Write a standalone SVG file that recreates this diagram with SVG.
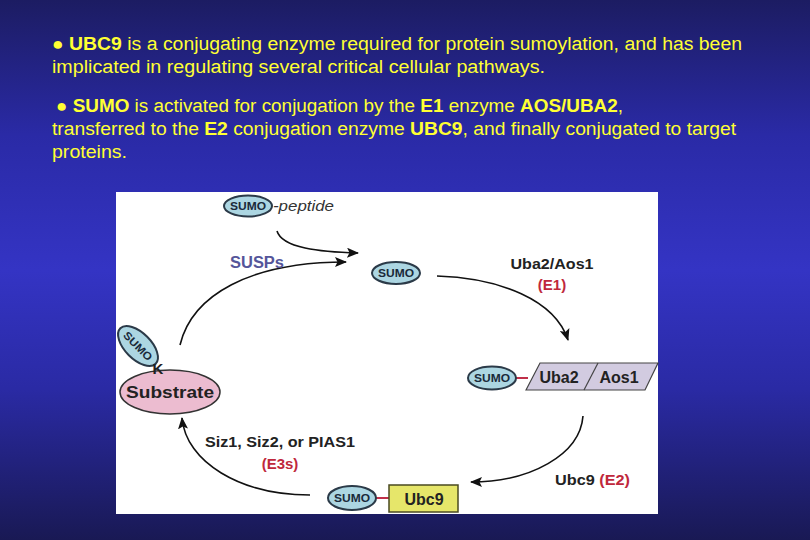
<svg xmlns="http://www.w3.org/2000/svg" width="810" height="540" viewBox="0 0 810 540">
<defs>
<linearGradient id="bg" x1="0" y1="0" x2="0" y2="1">
<stop offset="0" stop-color="#1c1c62"/>
<stop offset="0.25" stop-color="#2a2aa6"/>
<stop offset="0.5" stop-color="#3434c4"/>
<stop offset="0.72" stop-color="#2a2aa4"/>
<stop offset="1" stop-color="#191954"/>
</linearGradient>
<marker id="ah" viewBox="0 0 12 10" refX="11" refY="5" markerWidth="12" markerHeight="10" markerUnits="userSpaceOnUse" orient="auto">
<path d="M0,0 L12,5 L0,10 L2.5,5 Z" fill="#111"/>
</marker>
<style>
.hd{font-family:"Liberation Sans",Arial,sans-serif;font-size:18px;fill:#ffff33}
.b{font-weight:bold}
.sumo{fill:#acd6e2;stroke:#2b3a48;stroke-width:2}
.st{font-family:"Liberation Sans",Arial,sans-serif;font-weight:bold;font-size:11px;fill:#1a2a3a;text-anchor:middle}
.lb{font-family:"Liberation Sans",Arial,sans-serif;font-weight:bold;font-size:15px;fill:#222;text-anchor:middle}
.red{fill:#c0283c}
.arc{fill:none;stroke:#111;stroke-width:1.6;marker-end:url(#ah)}
.link{stroke:#c0304a;stroke-width:2}
</style>
</defs>
<rect width="810" height="540" fill="url(#bg)"/>
<g id="header">
<text class="hd" x="52" y="50" textLength="690" lengthAdjust="spacingAndGlyphs">●  <tspan class="b">UBC9</tspan> is a conjugating enzyme required for protein sumoylation, and has been</text>
<text class="hd" x="52" y="73" textLength="493" lengthAdjust="spacingAndGlyphs">implicated in regulating several critical cellular pathways.</text>
<text class="hd" x="56" y="112" textLength="567" lengthAdjust="spacingAndGlyphs">● <tspan class="b">SUMO</tspan> is activated for conjugation by the <tspan class="b">E1</tspan> enzyme <tspan class="b">AOS/UBA2</tspan>,</text>
<text class="hd" x="52" y="135" textLength="684" lengthAdjust="spacingAndGlyphs">transferred to the <tspan class="b">E2</tspan> conjugation enzyme <tspan class="b">UBC9</tspan>, and finally conjugated to target</text>
<text class="hd" x="52" y="158" textLength="75" lengthAdjust="spacingAndGlyphs">proteins.</text>
</g>
<rect id="panel" x="116" y="192" width="542" height="322" fill="#ffffff"/>
<g id="connectors">
<path class="arc" d="M277,231 C282,248 320,252 358,253"/>
<path class="arc" d="M180,345 C192,295 250,262 346,262"/>
<path class="arc" d="M437,276 C500,278 555,300 568,340"/>
<path class="arc" d="M583,416 C580,455 530,482 471,482"/>
<path class="arc" d="M310,495 C240,495 186,462 182,418"/>
<line class="link" x1="516" y1="378" x2="528" y2="378"/>
<line class="link" x1="376" y1="498" x2="389" y2="498"/>
</g>
<g id="sumo-peptide">
<ellipse class="sumo" cx="248" cy="206" rx="24" ry="10.5"/>
<text class="st" x="248" y="210" textLength="36" lengthAdjust="spacingAndGlyphs">SUMO</text>
<text x="273" y="211" font-family="Liberation Sans,Arial,sans-serif" font-style="italic" font-size="14" fill="#333" textLength="61" lengthAdjust="spacingAndGlyphs">-peptide</text>
</g>
<g id="susps"><text class="lb" x="257" y="268" style="fill:#55559a;font-size:16px" textLength="54" lengthAdjust="spacingAndGlyphs">SUSPs</text></g>
<g id="sumo-free">
<ellipse class="sumo" cx="396" cy="273" rx="24" ry="11"/>
<text class="st" x="396" y="277" textLength="36" lengthAdjust="spacingAndGlyphs">SUMO</text>
</g>
<g id="e1-label">
<text class="lb" x="552" y="269" textLength="83" lengthAdjust="spacingAndGlyphs">Uba2/Aos1</text>
<text class="lb red" x="552" y="290">(E1)</text>
</g>
<g id="sumo-e1">
<ellipse class="sumo" cx="492" cy="378" rx="24" ry="11.5"/>
<text class="st" x="492" y="382" textLength="36" lengthAdjust="spacingAndGlyphs">SUMO</text>
<polygon points="526,390 540,363 658,363 645,390" fill="#d2cbe0" stroke="#444" stroke-width="1.2"/>
<line x1="584" y1="390" x2="598" y2="363" stroke="#444" stroke-width="1.2"/>
<text class="lb" x="559" y="383" style="font-size:16px">Uba2</text>
<text class="lb" x="619" y="383" style="font-size:16px">Aos1</text>
</g>
<g id="e2-label">
<text class="lb" x="555" y="485" style="text-anchor:start" textLength="75" lengthAdjust="spacingAndGlyphs">Ubc9 <tspan class="red">(E2)</tspan></text>
</g>
<g id="sumo-ubc9">
<ellipse class="sumo" cx="352" cy="498" rx="24" ry="12"/>
<text class="st" x="352" y="502" textLength="36" lengthAdjust="spacingAndGlyphs">SUMO</text>
<rect x="389" y="485" width="69" height="27" fill="#e6e66a" stroke="#4a4a20" stroke-width="1.5"/>
<text class="lb" x="424" y="505" style="font-size:16px">Ubc9</text>
</g>
<g id="e3-label">
<text class="lb" x="280" y="447" textLength="150" lengthAdjust="spacingAndGlyphs">Siz1, Siz2, or PIAS1</text>
<text class="lb red" x="280" y="469">(E3s)</text>
</g>
<g id="substrate">
<ellipse cx="170" cy="392" rx="50" ry="22" fill="#ecbcd0" stroke="#333" stroke-width="1.5"/>
<text class="lb" x="170" y="398" style="font-size:17px" textLength="88" lengthAdjust="spacingAndGlyphs">Substrate</text>
<g transform="rotate(45 138 346)">
<ellipse class="sumo" cx="138" cy="346" rx="25" ry="13"/>
<text class="st" x="138" y="350" textLength="36" lengthAdjust="spacingAndGlyphs">SUMO</text>
</g>
<text class="lb" x="158" y="374" style="font-size:15px">K</text>
</g>
</svg>
